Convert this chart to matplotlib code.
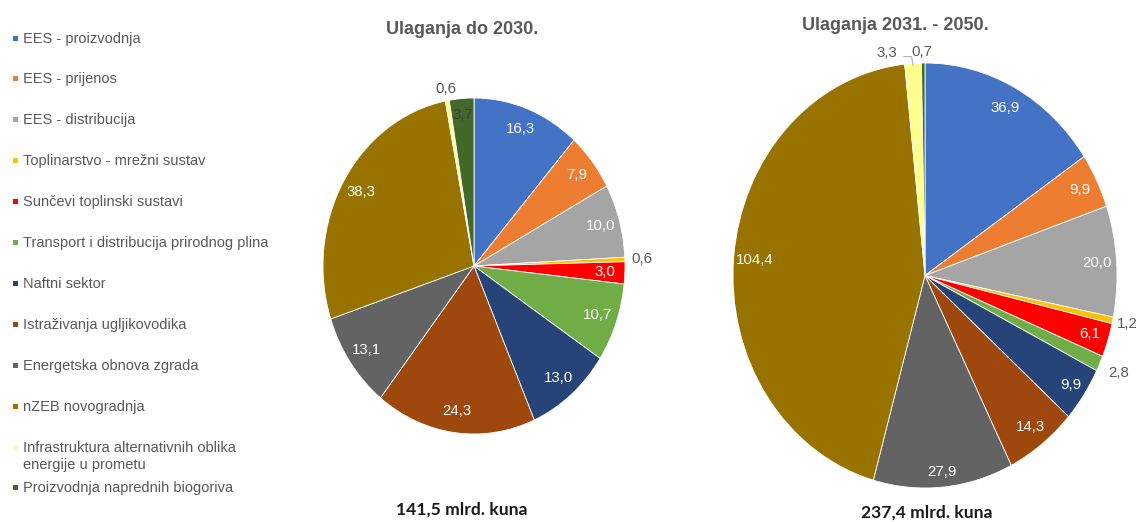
import matplotlib
matplotlib.use("Agg")
import matplotlib.pyplot as plt
import numpy as np
from matplotlib.patches import Rectangle

categories = [
    "EES - proizvodnja",
    "EES - prijenos",
    "EES - distribucija",
    "Toplinarstvo - mrežni sustav",
    "Sunčevi toplinski sustavi",
    "Transport i distribucija prirodnog plina",
    "Naftni sektor",
    "Istraživanja ugljikovodika",
    "Energetska obnova zgrada",
    "nZEB novogradnja",
    "Infrastruktura alternativnih oblika\nenergije u prometu",
    "Proizvodnja naprednih biogoriva",
]
values_2030 = [16.3, 7.9, 10.0, 0.6, 3.0, 10.7, 13.0, 24.3, 13.1, 38.3, 0.6, 3.7]
values_2050 = [36.9, 9.9, 20.0, 1.2, 6.1, 2.8, 9.9, 14.3, 27.9, 104.4, 3.3, 0.7]
title_2030 = "Ulaganja do 2030."
title_2050 = "Ulaganja 2031. - 2050."
total_2030 = "141,5 mlrd. kuna"
total_2050 = "237,4 mlrd. kuna"

colors = ["#4472C4", "#ED7D31", "#A5A5A5", "#FFC000", "#FF0000", "#70AD47",
          "#264478", "#9E480E", "#636363", "#997300", "#FFFF8F", "#43682B"]

W, H = 1136, 522
fig = plt.figure(figsize=(W / 100, H / 100), dpi=100)
plt.rcParams['font.family'] = ['Liberation Sans', 'DejaVu Sans']

GRAY = "#595959"
L = 1.35
LABEL_FS = 10.8


def make_axes(cx, cy, rx, ry):
    left = (cx - rx * L) / W
    bottom = (H - cy - ry * L) / H
    ax = fig.add_axes([left, bottom, 2 * rx * L / W, 2 * ry * L / H])
    return ax


def fmt(v):
    return f"{v:.1f}".replace('.', ',')


def draw_pie(ax, vals, lab_r, lab_col, override=None):
    override = override or {}
    wedges, _ = ax.pie(vals, colors=colors, startangle=90, counterclock=False,
                       radius=1.0, wedgeprops=dict(edgecolor="white", linewidth=0.6))
    ax.set_aspect('auto')
    ax.set_xlim(-L, L)
    ax.set_ylim(-L, L)
    ax.axis('off')
    for i, (w, v, r, c) in enumerate(zip(wedges, vals, lab_r, lab_col)):
        mid = np.deg2rad((w.theta1 + w.theta2) / 2)
        x, y = r * np.cos(mid), r * np.sin(mid)
        if i in override:
            x = override[i]
        ax.text(x, y, fmt(v), color=c, fontsize=LABEL_FS, ha='center', va='center')
    return wedges


# left pie
ax1 = make_axes(474, 266, 151, 168)
r1 = [0.87] * 12
r1[3] = 1.11
r1[10] = 1.07
r1[11] = 0.9
c1 = ["white"] * 12
c1[3] = GRAY
c1[10] = GRAY
c1[11] = "#404040"
draw_pie(ax1, values_2030, r1, c1)

# right pie
ax2 = make_axes(925, 275.5, 192, 212.5)
r2 = [0.89, 0.9, 0.9, 1.08, 0.9, 1.11, 0.92, 0.9, 0.93, 0.89, 1.05, 1.05]
c2 = ["white"] * 12
for i in (3, 5, 10, 11):
    c2[i] = GRAY
w2 = draw_pie(ax2, values_2050, r2, c2, override={10: -0.2, 11: -0.015})
mid = np.deg2rad((w2[10].theta1 + w2[10].theta2) / 2)
ax2.plot([-0.11, -0.07, 0.99 * np.cos(mid)], [1.03, 1.03, 0.99 * np.sin(mid)],
         color="#A6A6A6", lw=0.7, clip_on=False)

# titles
fig.text(462 / W, 1 - 30 / H, title_2030, ha='center', va='center',
         fontsize=13, fontweight='bold', color=GRAY)
fig.text(895 / W, 1 - 25 / H, title_2050, ha='center', va='center',
         fontsize=13, fontweight='bold', color=GRAY)
fig.text(462 / W, 1 - 510 / H, total_2030, ha='center', va='center',
         fontsize=12.6, fontweight='bold', color="#1a1a1a", family=['Lato', 'DejaVu Sans'])
fig.text(927 / W, 1 - 513 / H, total_2050, ha='center', va='center',
         fontsize=12.6, fontweight='bold', color="#1a1a1a", family=['Lato', 'DejaVu Sans'])

# legend
y0, dy = 38, 40.9
for i, (lab, col) in enumerate(zip(categories, colors)):
    y = y0 + dy * i
    fig.patches.append(Rectangle((12.5 / W, 1 - (y + 2.5) / H), 5 / W, 5 / H,
                                 transform=fig.transFigure, facecolor=col,
                                 edgecolor='none'))
    fig.text(23 / W, 1 - (y - 6.5) / H, lab, ha='left', va='top', fontsize=10.5,
             color=GRAY, linespacing=1.3)

fig.savefig("out.png", dpi=100)
